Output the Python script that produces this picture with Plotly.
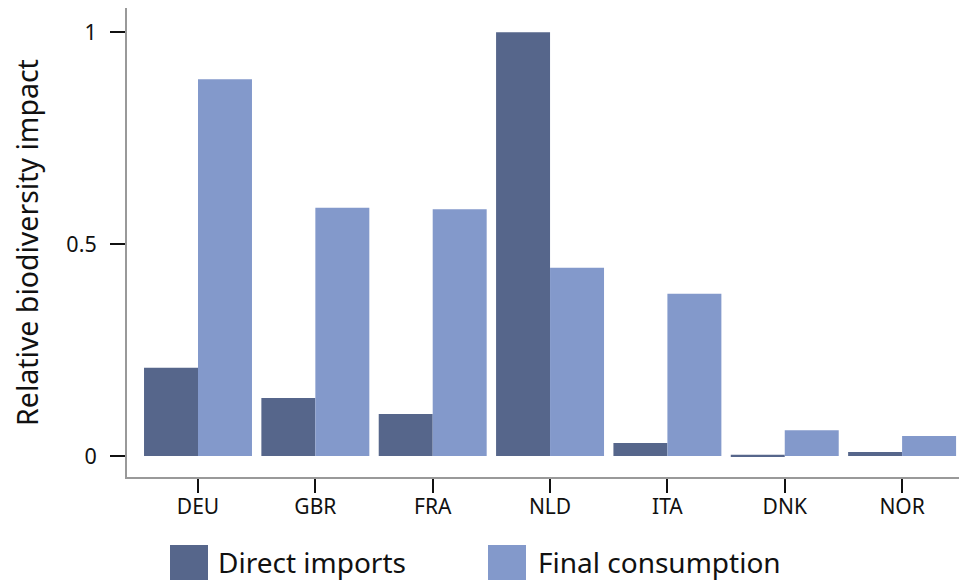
import plotly.graph_objects as go

countries = ["DEU", "GBR", "FRA", "NLD", "ITA", "DNK", "NOR"]
direct_imports = [0.208, 0.137, 0.099, 1.0, 0.031, 0.003, 0.0095]
final_consumption = [0.889, 0.586, 0.582, 0.444, 0.383, 0.061, 0.047]

dark = "#56668B"
light = "#8399CB"
font_family = "Noto Sans"

fig = go.Figure()
fig.add_trace(go.Bar(x=countries, y=direct_imports, name="Direct imports",
                     marker=dict(color=dark, line=dict(width=0))))
fig.add_trace(go.Bar(x=countries, y=final_consumption, name="Final consumption",
                     marker=dict(color=light, line=dict(width=0))))

OFF = 8  # page body margin
W, H = 967, 580
L, R, T, B = 119, 0, 0, 111
pw, ph = W - L - R, H - T - B
spacing = 117.35
x0_range = -0.605
x1_range = x0_range + pw / spacing

def px(x):
    return (x - OFF - L) / pw

def py(y):
    return (H - B - (y - OFF)) / ph

legend_items = [("Direct imports", dark, 170, 208, 218),
                ("Final consumption", light, 488, 526, 538)]
shapes = []
annotations = []
for label, col, x0, x1, tx in legend_items:
    shapes.append(dict(type="rect", xref="paper", yref="paper",
                       x0=px(x0), x1=px(x1), y0=py(545), y1=py(590),
                       fillcolor=col, line=dict(width=0), layer="above"))
    annotations.append(dict(text=label, xref="paper", yref="paper",
                            x=px(tx - 2), y=py(562), xanchor="left", yanchor="middle",
                            showarrow=False, font=dict(size=28, color="#111", family=font_family)))

fig.update_layout(
    width=W, height=H,
    margin=dict(l=L, r=R, t=T, b=B, autoexpand=False),
    plot_bgcolor="white", paper_bgcolor="white",
    barmode="group", bargap=0.08, bargroupgap=0,
    showlegend=False,
    font=dict(family=font_family, color="#111"),
    shapes=shapes, annotations=annotations,
    xaxis=dict(type="category", range=[x0_range, x1_range], showgrid=False, zeroline=False,
               showline=True, linecolor="#999", linewidth=2,
               ticks="outside", ticklen=14, tickwidth=1.5, tickcolor="#111",
               tickfont=dict(size=21, family=font_family, color="#111"),
               ticklabelstandoff=-4),
    yaxis=dict(range=[-0.0495, 1.057], showgrid=False, zeroline=False,
               showline=True, linecolor="#999", linewidth=2,
               tickvals=[0, 0.5, 1], ticktext=["0", "0.5", "1"],
               ticks="outside", ticklen=15, tickwidth=1.5, tickcolor="#111",
               tickfont=dict(size=21.5, family=font_family, color="#111"),
               ticklabelstandoff=9,
               title=dict(text="Relative biodiversity impact",
                          font=dict(size=28.5, family=font_family, color="#111"),
                          standoff=27)),
)

fig.write_html("out.html")
